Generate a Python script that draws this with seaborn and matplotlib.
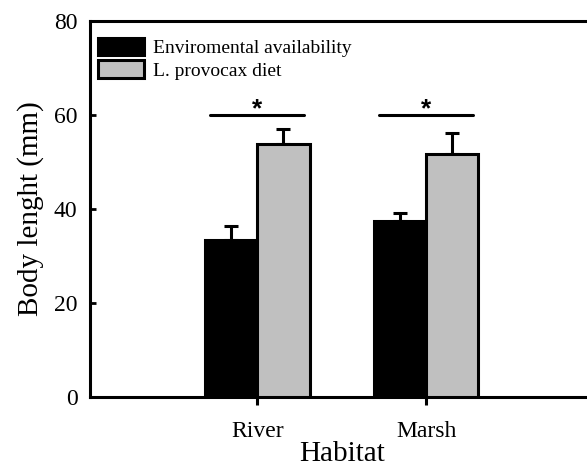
import matplotlib
matplotlib.use("Agg")
import matplotlib.pyplot as plt
import seaborn as sns
import pandas as pd
import numpy as np
from matplotlib.patches import Patch

# ---- data ----
habitats = ["River", "Marsh"]
groups = ["Enviromental availability", "L. provocax diet"]
env_means = [33.3, 37.5]
env_errs = [3.1, 1.6]
diet_means = [53.8, 51.6]
diet_errs = [3.2, 4.5]
sig_y = 60
yticks = [0, 20, 40, 60, 80]

colors = ["black", "#c0c0c0"]

df = pd.DataFrame({
    "Habitat": habitats * 2,
    "Group": [groups[0]] * 2 + [groups[1]] * 2,
    "Value": env_means + diet_means,
    "Err": env_errs + diet_errs,
})

plt.rcParams["font.family"] = ["Liberation Serif", "DejaVu Serif"]

fig = plt.figure(figsize=(5.87, 4.68), dpi=100)
ax = fig.add_axes([90 / 587, (468 - 397) / 468, (595 - 90) / 587, (397 - 21) / 468])

sns.barplot(data=df, x="Habitat", y="Value", hue="Group", order=habitats,
            hue_order=groups, palette=colors, edgecolor="black", linewidth=2.2,
            width=0.62, errorbar=None, ax=ax, legend=False, zorder=3)

# error bars (upper only) from bar patches
bars = [p for p in ax.patches if p.get_height() > 0]
for p in bars:
    cx = p.get_x() + p.get_width() / 2
    h = p.get_height()
    row = df[np.isclose(df["Value"], h)].iloc[0]
    ax.errorbar(cx, h, yerr=[[0], [row["Err"]]], fmt="none", ecolor="black",
                elinewidth=2.2, capsize=4.7, capthick=2.2, zorder=2)

# significance lines and stars
for i, hab in enumerate(habitats):
    grp = [p for p in bars if abs(p.get_x() + p.get_width() / 2 - i) < 0.5]
    x0 = min(p.get_x() for p in grp) + 0.03
    x1 = max(p.get_x() + p.get_width() for p in grp) - 0.03
    ax.plot([x0, x1], [sig_y, sig_y], color="black", lw=2.2, solid_capstyle="round")
    ax.text((x0 + x1) / 2, sig_y - 0.2, "*", ha="center", va="baseline",
            fontsize=19, fontweight="bold", family="Liberation Sans")

ax.set_xlim(-0.99, 2.0)
ax.set_ylim(0, 80)
ax.set_yticks(yticks)
ax.set_yticklabels([str(t) for t in yticks])

for s in ax.spines.values():
    s.set_linewidth(2.2)

ax.tick_params(axis="y", direction="in", length=4, width=2, labelsize=17, pad=9)
ax.tick_params(axis="x", direction="out", length=6, width=2.2, labelsize=17, pad=11)

ax.set_ylabel("Body lenght (mm)", fontsize=21, labelpad=7)
ax.set_xlabel("Habitat", fontsize=21)
ax.xaxis.set_label_coords(0.5, (397 - 461) / 376)
ax.xaxis.label.set_va("baseline")

handles = [Patch(facecolor=c, edgecolor="black", linewidth=2.2) for c in colors]
ax.legend(handles, groups, loc="upper left", bbox_to_anchor=(0.016, 0.955),
          frameon=False, fontsize=14, handlelength=2.35, handleheight=1.0,
          handletextpad=0.45, labelspacing=0.15, borderpad=0, borderaxespad=0)

fig.savefig("out.png", dpi=100)
